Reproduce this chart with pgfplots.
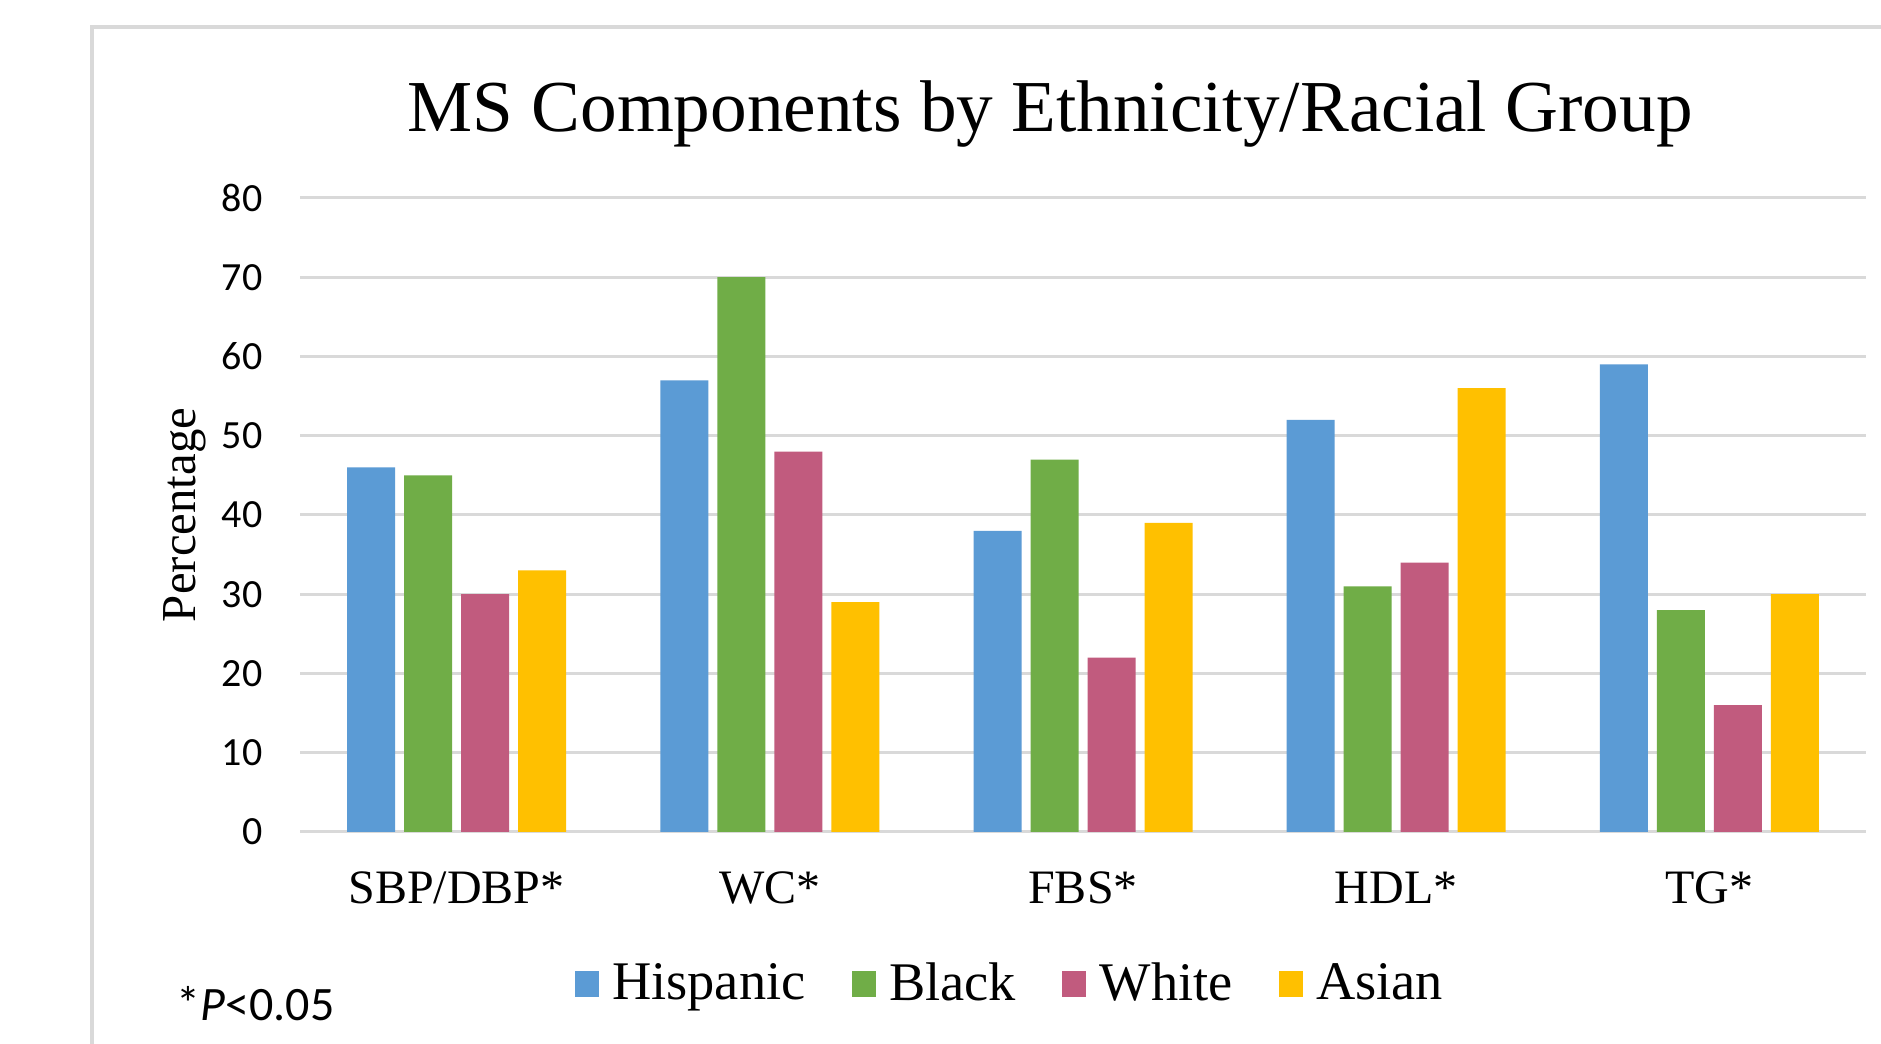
\documentclass[border=0pt]{standalone}
\usepackage{fontspec}
\setmainfont{Liberation Serif}
\newfontfamily\calibri{Carlito}
\usepackage{pgfplots}
\pgfplotsset{compat=1.18}
\definecolor{cHis}{HTML}{5B9BD5}
\definecolor{cBla}{HTML}{70AD47}
\definecolor{cWhi}{HTML}{C15B7E}
\definecolor{cAsi}{HTML}{FFC000}
\definecolor{gridc}{HTML}{D9D9D9}
\pgfplotsset{sqlegend/.style={legend image code/.code={\fill[##1] (0pt,-3.25pt) rectangle (6pt,3.25pt);}}}
\begin{document}
\begin{tikzpicture}
\useasboundingbox (0pt,0pt) rectangle (470.25pt,261pt);
\fill[white] (0pt,0pt) rectangle (470.25pt,261pt);
\draw[color=gridc, line width=1pt] (23pt,-2pt) -- (23pt,254.25pt) -- (475pt,254.25pt);
\node[anchor=base, inner sep=0pt, font=\fontsize{18.3}{22}\selectfont] at (262.5pt,228pt) {MS Components by Ethnicity/Racial Group};
\node[anchor=base west, inner sep=0pt, font=\calibri\fontsize{12}{14}\selectfont] at (44pt,5.75pt) {*\textit{P}<0.05};
\begin{axis}[
  at={(75pt,53pt)}, anchor=south west,
  scale only axis, width=391.5pt, height=158.5pt,
  xmin=-0.5, xmax=4.5, ymin=0, ymax=80,
  ytick={0,10,...,80},
  xtick={0,1,2,3,4},
  xticklabels={SBP/DBP*, WC*, FBS*, HDL*, TG*},
  ymajorgrids, grid style={gridc, line width=0.75pt},
  axis line style={draw=none},
  major tick length=0pt,
  ybar=2.25pt, bar width=12pt,
  /pgf/number format/assume math mode=true,
  yticklabel style={font=\calibri\fontsize{10}{12}\selectfont, xshift=-5.9pt},
  xticklabel style={font=\fontsize{12}{14}\selectfont, yshift=-6.5pt},
  ylabel={Percentage},
  ylabel style={at={(axis description cs:-0.067,0.5)}, anchor=base, font=\fontsize{12.2}{14}\selectfont},
  legend style={at={(axis description cs:0.457,-0.24)}, anchor=center, draw=none, fill=none,
    legend columns=4, font=\fontsize{13.6}{16}\selectfont,
    /tikz/every even column/.append style={column sep=8.3pt},
    nodes={inner xsep=3.3pt}},
]
\addplot[fill=cHis, draw=none, sqlegend] coordinates {(0,46) (1,57) (2,38) (3,52) (4,59)};
\addplot[fill=cBla, draw=none, sqlegend] coordinates {(0,45) (1,70) (2,47) (3,31) (4,28)};
\addplot[fill=cWhi, draw=none, sqlegend] coordinates {(0,30) (1,48) (2,22) (3,34) (4,16)};
\addplot[fill=cAsi, draw=none, sqlegend] coordinates {(0,33) (1,29) (2,39) (3,56) (4,30)};
\legend{Hispanic, Black, White, Asian}
\end{axis}
\end{tikzpicture}
\end{document}
